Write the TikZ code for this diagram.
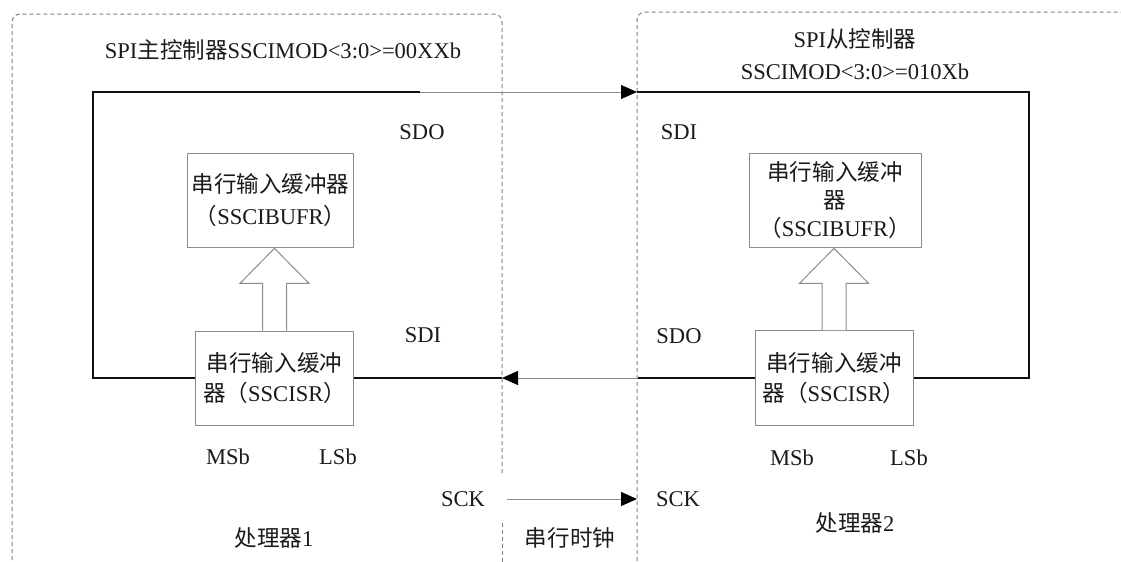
\documentclass[tikz,border=0pt]{standalone}
\usepackage{fontspec}
\setmainfont{Liberation Serif}
\newfontfamily\cjk{Noto Sans CJK SC}
\usetikzlibrary{arrows.meta, calc}
\definecolor{cbus}{HTML}{111111}
\definecolor{cgrey}{HTML}{8C8C8C}
\definecolor{cdash}{HTML}{808080}
\definecolor{ctext}{HTML}{1A1A1A}
\tikzset{
  every picture/.style={x=0.75pt, y=-0.75pt, font=\fontsize{16.9}{24}\selectfont, text=ctext},
  region/.style={draw=cdash, line width=0.75pt, dash pattern=on 3pt off 2.25pt, rounded corners=6pt},
  reg/.style={draw=cgrey, line width=0.75pt, fill=white, align=center, inner sep=0pt},
  bus/.style={draw=cbus, line width=1.6pt},
  wire/.style={draw=cgrey, line width=0.75pt, -{Triangle[length=12pt, width=10.5pt, color=black]}},
  hollow/.style={draw=cgrey, line width=0.75pt, fill=white, line join=miter},
}
% hollow block arrow from box #1 up to box #2
\newcommand{\hollowup}[2]{
  \coordinate (tip) at (#1.north |- #2.south);
  \draw[hollow] ($(#1.north)+(-12,0)$) -- ($(tip)+(-12,35)$) -- ++(-22.5,0) -- (tip)
    -- ++(34.5,35) -- ++(-22.5,0) -- ($(#1.north)+(12,0)$);
}

\begin{document}
\begin{tikzpicture}
  \useasboundingbox (0,0) rectangle (1121,561);
  \begin{scope}
    \clip (0,0) rectangle (1121,561);
    \draw[region] (502,473) -- (502,14) -- (12,14) -- (12,575);
    \draw[region] (502,523) -- (502,575);
    \draw[region] (637,575) -- (637,12) -- (1140,12);
  \end{scope}

  \node (titleL) at (283,50) {SPI{\cjk 主控制器}SSCIMOD<3:0>=00XXb};
  \node[align=center] (titleR) at (855,54) {SPI{\cjk 从控制器}\\SSCIMOD<3:0>=010Xb};

  \node[reg, minimum width=125pt, minimum height=71pt] (bufL) at (270.5,200.5)
    {{\cjk 串行输入缓冲器}\\{\cjk （}SSCIBUFR{\cjk ）}};
  \node[reg, minimum width=119pt, minimum height=70.5pt] (isrL) at (274.5,378)
    {{\cjk 串行输入缓冲}\\[-2pt]{\cjk 器（}SSCISR{\cjk ）}};
  \node[reg, minimum width=129pt, minimum height=71pt] (bufR) at (835,200.5)
    {{\cjk 串行输入缓冲}\\[-3pt]{\cjk 器}\\[-3pt]{\cjk （}SSCIBUFR{\cjk ）}};
  \node[reg, minimum width=118.5pt, minimum height=71pt] (isrR) at (834,378)
    {{\cjk 串行输入缓冲}\\[-2pt]{\cjk 器（}SSCISR{\cjk ）}};

  \hollowup{isrL}{bufL}
  \hollowup{isrR}{bufR}

  \node (sdoL) at (422,132) {SDO};
  \node (sdiR) at (679,132) {SDI};
  \node (sdiL) at (423,335) {SDI};
  \node (sdoR) at (679,336) {SDO};
  \node (msbL) at (228,457) {MSb};
  \node (lsbL) at (338,457) {LSb};
  \node (msbR) at (792,458) {MSb};
  \node (lsbR) at (909,458) {LSb};
  \node (sckL) at (463,499) {SCK};
  \node (sckR) at (678,499) {SCK};
  \node (cpu1) at (274,538) {{\cjk 处理器}1};
  \node (cpu2) at (855,523) {{\cjk 处理器}2};
  \node (clk) at (570,538) {\cjk 串行时钟};

  \coordinate (outL) at (420,92);
  \coordinate (inR) at (637,92);
  \coordinate (outR) at (638,378);
  \coordinate (inL) at (502,378);
  \coordinate (sckOut) at (507,499);
  \coordinate (sckIn) at (637,499);

  \draw[bus] (isrL.west) -- ++(-102,0) |- (outL);
  \draw[wire] (outL) -- (inR);
  \draw[bus] (inR) -- ++(392,0) |- (isrR.east);
  \draw[bus] (isrR.west) -- (outR);
  \draw[wire] (outR) -- (inL);
  \draw[bus] (inL) -- (isrL.east);
  \draw[wire] (sckOut) -- (sckIn);
\end{tikzpicture}
\end{document}
